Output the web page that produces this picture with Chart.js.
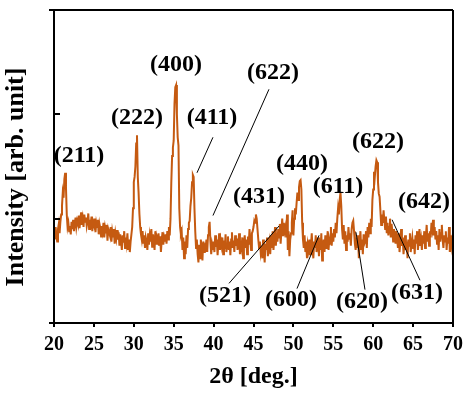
<!DOCTYPE html>
<html>
<head>
<meta charset="utf-8">
<script src="https://cdn.jsdelivr.net/npm/chart.js@4.4.1/dist/chart.umd.min.js"></script>
<style>
  html, body { margin: 0; padding: 0; background: #fff; }
</style>
</head>
<body>
<canvas id="xrd" width="474" height="397"></canvas>
<script>
// 2θ grid: 20.0 .. 70.0 in 0.1 deg steps
const startAngle = 20;
const angleStep = 0.1;

// intensity (arb. units, 10 points per degree)
const int20to30 = [
  88, 80, 92, 84, 78, 90, 95, 86, 97, 104,
  112, 125, 120, 138, 144, 130, 104, 92, 96, 88,
  93, 85, 97, 90, 99, 88, 94, 101, 92, 98,
  95, 103, 91, 99, 106, 94, 100, 92, 104, 97,
  101, 93, 98, 105, 90, 99, 95, 102, 88, 97,
  94, 100, 87, 96, 92, 99, 85, 95, 91, 83,
  93, 88, 96, 82, 91, 86, 94, 79, 90, 87,
  84, 92, 78, 88, 83, 90, 76, 86, 81, 89,
  80, 87, 74, 85, 79, 70, 84, 77, 88, 72,
  82, 76, 86, 70, 80, 68, 78, 85, 92, 110
];
const int30to40 = [
  135, 140, 150, 172, 180, 140, 125, 105, 92, 85,
  80, 88, 76, 84, 72, 82, 78, 70, 86, 75,
  84, 78, 90, 73, 85, 80, 70, 88, 76, 82,
  79, 86, 74, 83, 68, 80, 87, 75, 82, 78,
  85, 76, 88, 80, 92, 84, 100, 135, 160, 168,
  175, 210, 226, 228, 200, 178, 170, 110, 92, 85,
  88, 70, 82, 62, 78, 66, 84, 72, 90, 96,
  98, 112, 120, 135, 142, 140, 110, 88, 72, 80,
  66, 58, 75, 62, 80, 70, 60, 78, 68, 74,
  72, 80, 68, 84, 92, 97, 78, 66, 75, 70
];
const int40to50 = [
  78, 68, 84, 73, 80, 65, 77, 86, 70, 79,
  74, 82, 66, 79, 71, 85, 68, 76, 83, 70,
  78, 65, 80, 87, 72, 79, 68, 84, 74, 81,
  70, 77, 86, 66, 79, 73, 82, 62, 76, 84,
  72, 80, 66, 83, 75, 90, 78, 70, 86, 88,
  92, 98, 96, 104, 100, 90, 80, 72, 78, 68,
  74, 62, 80, 68, 58, 76, 70, 82, 64, 75,
  79, 66, 84, 72, 88, 70, 80, 92, 74, 86,
  78, 90, 82, 95, 76, 88, 100, 84, 96, 88,
  92, 82, 104, 70, 88, 64, 80, 86, 96, 108
];
const int50to60 = [
  84, 100, 110, 104, 115, 125, 118, 130, 136, 137,
  128, 96, 80, 72, 84, 68, 78, 62, 75, 70,
  80, 66, 74, 86, 70, 62, 78, 72, 84, 68,
  76, 82, 64, 78, 70, 86, 60, 74, 80, 68,
  84, 72, 78, 88, 70, 80, 76, 92, 74, 86,
  78, 90, 82, 96, 86, 100, 110, 104, 118, 125,
  112, 90, 80, 94, 76, 88, 70, 84, 78, 92,
  80, 86, 74, 90, 96, 98, 88, 76, 70, 82,
  72, 84, 62, 78, 88, 70, 80, 66, 85, 76,
  78, 88, 72, 92, 82, 96, 86, 100, 92, 118
];
const int60to70 = [
  128, 145, 140, 150, 156, 154, 135, 124, 121, 108,
  94, 104, 96, 108, 98, 90, 102, 86, 96, 84,
  92, 100, 82, 95, 88, 78, 90, 84, 76, 88,
  80, 72, 86, 68, 78, 90, 74, 82, 66, 76,
  84, 70, 78, 62, 80, 74, 86, 68, 76, 82,
  72, 80, 66, 84, 76, 88, 70, 78, 90, 74,
  80, 70, 84, 76, 88, 72, 82, 94, 78, 86,
  74, 88, 82, 96, 90, 99, 84, 92, 80, 88,
  76, 84, 70, 90, 78, 86, 94, 80, 72, 84,
  78, 88, 70, 82, 76, 92, 68, 84, 74, 80,
  72
];

// axis ticks
const xTicks = [20, 25, 30, 35, 40, 45, 50, 55, 60, 65, 70];
const yTicks = [0, 100, 200, 300];

// peak labels: text and where it sits (2θ, intensity)
const peakLabels = [
  { text: '(211)', x: 23.13, y: 160 },
  { text: '(222)', x: 30.40, y: 197 },
  { text: '(400)', x: 35.29, y: 247 },
  { text: '(411)', x: 39.80, y: 197 },
  { text: '(622)', x: 47.44, y: 240 },
  { text: '(431)', x: 45.69, y: 121 },
  { text: '(440)', x: 51.08, y: 153 },
  { text: '(611)', x: 55.59, y: 131 },
  { text: '(622)', x: 60.60, y: 174 },
  { text: '(642)', x: 66.37, y: 116 },
  { text: '(521)', x: 41.43, y: 26 },
  { text: '(600)', x: 49.70, y: 22 },
  { text: '(620)', x: 58.60, y: 20 },
  { text: '(631)', x: 65.49, y: 29 }
];

// leader lines: [x1, y1, x2, y2] in (2θ, intensity)
const leaderLines = [
  [39.92, 178, 37.92, 144],
  [46.94, 224, 39.92, 103],
  [48.20, 93, 41.93, 38],
  [53.21, 84, 50.45, 33],
  [57.84, 87, 58.97, 32],
  [62.36, 99, 65.86, 41]
];

const intensity = int20to30.concat(int30to40, int40to50, int50to60, int60to70);
const points = intensity.map((v, i) => ({ x: +(startAngle + i * angleStep).toFixed(1), y: v }));

const serif = '"Liberation Serif", "Times New Roman", serif';

const framePlugin = {
  id: 'frame',
  afterDatasetsDraw(chart) {
    const ctx = chart.ctx;
    const xs = chart.scales.x;
    const ys = chart.scales.y;
    const area = chart.chartArea;
    const left = Math.round(area.left);
    const right = Math.round(area.right);
    const top = Math.round(area.top);
    const bottom = Math.round(area.bottom);

    ctx.save();
    ctx.strokeStyle = '#000';
    ctx.lineWidth = 2;
    ctx.beginPath();
    // box
    ctx.moveTo(left - 5, top); ctx.lineTo(right, top);
    ctx.moveTo(right, top); ctx.lineTo(right, bottom);
    ctx.moveTo(left - 5, bottom); ctx.lineTo(right, bottom);
    ctx.moveTo(left, top); ctx.lineTo(left, bottom);
    // y ticks (inside)
    yTicks.forEach(v => {
      const py = Math.round(ys.getPixelForValue(v));
      ctx.moveTo(left, py); ctx.lineTo(left + 6, py);
    });
    // x ticks (outside)
    xTicks.forEach(v => {
      const px = Math.round(xs.getPixelForValue(v));
      ctx.moveTo(px, bottom); ctx.lineTo(px, bottom + 4);
    });
    ctx.stroke();

    // x tick labels
    ctx.fillStyle = '#000';
    ctx.font = 'bold 20px ' + serif;
    ctx.textAlign = 'center';
    ctx.textBaseline = 'alphabetic';
    xTicks.forEach(v => {
      ctx.fillText(String(v), xs.getPixelForValue(v), bottom + 27);
    });

    // axis titles
    ctx.font = 'bold 24px ' + serif;
    ctx.fillText('2\u03B8 [deg.]', (left + right) / 2, bottom + 60);

    ctx.save();
    ctx.translate(23, 177);
    ctx.rotate(-Math.PI / 2);
    ctx.font = 'bold 26px ' + serif;
    ctx.fillText('Intensity [arb. unit]', 0, 0);
    ctx.restore();

    // leader lines
    ctx.lineWidth = 1;
    ctx.beginPath();
    leaderLines.forEach(l => {
      ctx.moveTo(xs.getPixelForValue(l[0]), ys.getPixelForValue(l[1]));
      ctx.lineTo(xs.getPixelForValue(l[2]), ys.getPixelForValue(l[3]));
    });
    ctx.stroke();

    // peak labels
    ctx.font = 'bold 24px ' + serif;
    ctx.textBaseline = 'middle';
    peakLabels.forEach(p => {
      ctx.fillText(p.text, xs.getPixelForValue(p.x), ys.getPixelForValue(p.y));
    });
    ctx.restore();
  }
};

const xrd = document.getElementById('xrd').getContext('2d');
const xrdChart = new Chart(xrd, {
  type: 'line',
  data: {
    datasets: [{
      label: 'XRD',
      data: points,
      borderColor: '#c55a11',
      backgroundColor: 'transparent',
      borderWidth: 2,
      pointRadius: 0,
      tension: 0
    }]
  },
  options: {
    responsive: false,
    animation: false,
    layout: {
      padding: { left: 54, right: 21, top: 10, bottom: 74 }
    },
    scales: {
      x: {
        type: 'linear',
        min: 20,
        max: 70,
        display: false,
        ticks: { stepSize: 5 }
      },
      y: {
        min: 0,
        max: 300,
        display: false,
        ticks: { stepSize: 100 }
      }
    },
    plugins: {
      legend: { display: false },
      tooltip: { enabled: false }
    }
  },
  plugins: [framePlugin]
});
</script>
</body>
</html>
